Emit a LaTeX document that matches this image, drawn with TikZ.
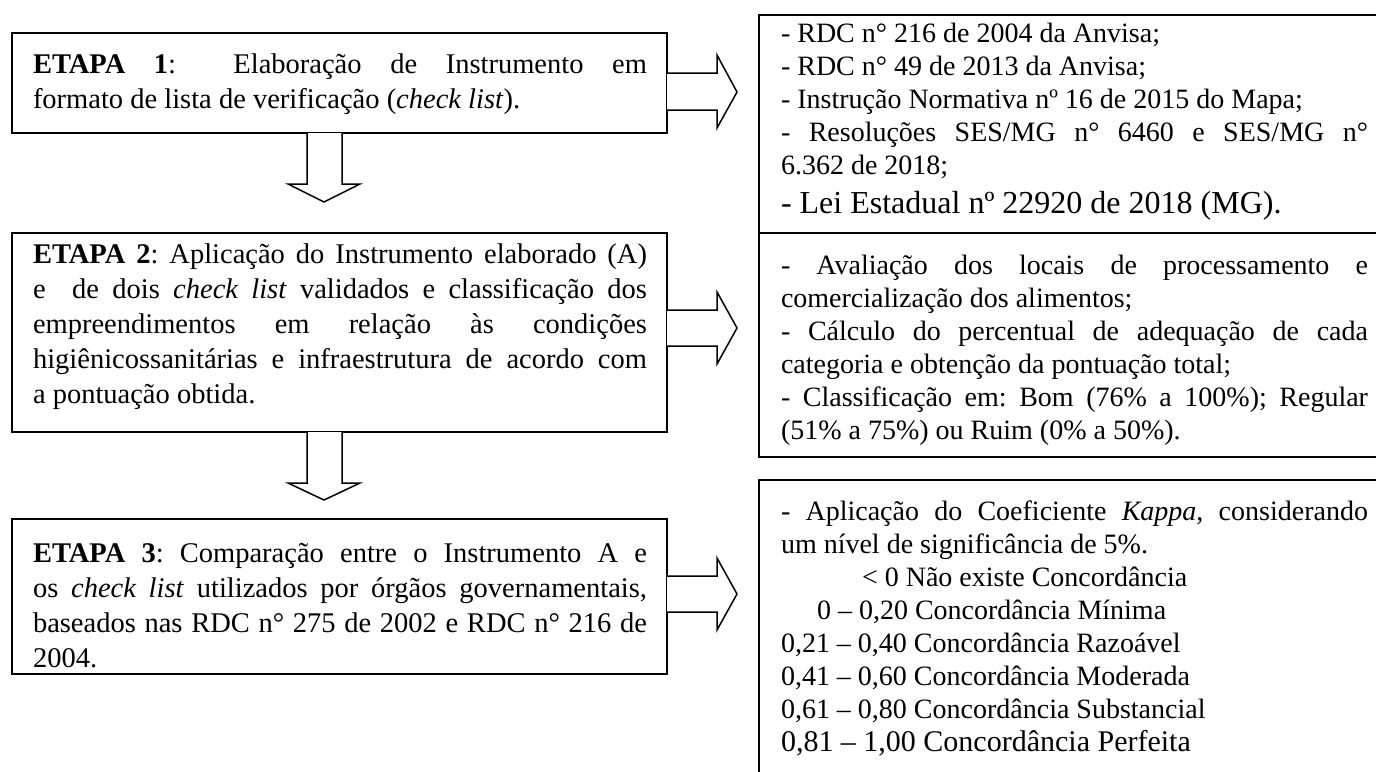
\documentclass[tikz,border=0pt]{standalone}
\usepackage{fontspec}
\setmainfont{Liberation Serif}
\frenchspacing
\newcommand{\jline}[1]{\makebox[\linewidth][s]{#1}\par}
\newcommand{\lfont}{\fontsize{28.5}{35}\selectfont\frenchspacing}
\newcommand{\rfont}{\fontsize{28}{33}\selectfont\frenchspacing}
\newcommand{\bfontLei}{\fontsize{32}{39}\selectfont}
\newcommand{\bfontKap}{\fontsize{30}{33}\selectfont}
\begin{document}
\begin{tikzpicture}[x=1pt,y=-1pt,
  box/.style={draw, line width=1.5pt, inner sep=0pt, outer sep=0pt, rectangle, anchor=north west},
  txt/.style={anchor=base west, inner sep=0pt, outer sep=0pt},
  blockarrow/.style={draw, line width=1.5pt, line join=miter, fill=white}]
\useasboundingbox (0,0) rectangle (1376,771);
\clip (0,0) rectangle (1376,771);

% left boxes
\node[box, minimum width=655pt, minimum height=100pt] (b1) at (12,33) {};
\node[box, minimum width=655pt, minimum height=199pt] (b2) at (12,233) {};
\node[box, minimum width=655pt, minimum height=155pt] (b3) at (12,519) {};

% right boxes
\node[box, minimum width=640pt, minimum height=218pt] (r1) at (759,15) {};
\node[box, minimum width=640pt, minimum height=224pt] (r2) at (759,233) {};
\node[box, minimum width=640pt, minimum height=330pt] (r3) at (759,480) {};

% left texts
\node[txt] (t1) at (33,73) {\parbox[t]{614pt}{\lfont
\jline{\textbf{ETAPA 1}:\ \ Elaboração de Instrumento em}
formato de lista de verificação (\textit{check list}).}};

\node[txt] (t2) at (33,263) {\parbox[t]{614pt}{\lfont
\jline{\textbf{ETAPA 2}: Aplicação do Instrumento elaborado (A)}
\jline{e\ \ de dois \textit{check list} validados e classificação dos}
\jline{empreendimentos em relação às condições}
\jline{higiênicossanitárias e infraestrutura de acordo com}
a pontuação obtida.}};

\node[txt] (t3) at (33,562) {\parbox[t]{614pt}{\lfont
\jline{\textbf{ETAPA 3}: Comparação entre o Instrumento A e}
\jline{os \textit{check list} utilizados por órgãos governamentais,}
\jline{baseados nas RDC n° 275 de 2002 e RDC n° 216 de}
2004.}};

% right texts
\node[txt] (s1) at (781,42) {\parbox[t]{587pt}{\rfont
- RDC n° 216 de 2004 da Anvisa;\par
- RDC n° 49 de 2013 da Anvisa;\par
- Instrução Normativa nº 16 de 2015 do Mapa;\par
\jline{- Resoluções SES/MG n° 6460 e SES/MG n°}
6.362 de 2018;\par
{\bfontLei - Lei Estadual nº 22920 de 2018 (MG).\par}}};

\node[txt] (s2) at (781,274) {\parbox[t]{587pt}{\rfont
\jline{- Avaliação dos locais de processamento e}
comercialização dos alimentos;\par
\jline{- Cálculo do percentual de adequação de cada}
categoria e obtenção da pontuação total;\par
\jline{- Classificação em: Bom (76\% a 100\%); Regular}
(51\% a 75\%) ou Ruim (0\% a 50\%).}};

\node[txt] (s3) at (781,520) {\parbox[t]{587pt}{\rfont
\jline{- Aplicação do Coeficiente \textit{Kappa}, considerando}
um nível de significância de 5\%.\par
\hspace*{81pt}< 0 Não existe Concordância\par
\hspace*{36pt}0 – 0,20 Concordância Mínima\par
0,21 – 0,40 Concordância Razoável\par
0,41 – 0,60 Concordância Moderada\par
0,61 – 0,80 Concordância Substancial\par
{\bfontKap 0,81 – 1,00 Concordância Perfeita\par}}};

% right block arrows
\draw[blockarrow] (b1.east |- 0,73) -- (717,73) -- (717,55) -- (737,92) -- (717,128) -- (717,110) -- (b1.east |- 0,110);
\draw[blockarrow] (b2.east |- 0,310) -- (717,310) -- (717,292) -- (737,328) -- (717,364) -- (717,346) -- (b2.east |- 0,346);
\draw[blockarrow] (b3.east |- 0,576) -- (717,576) -- (717,558) -- (737,594) -- (717,630) -- (717,612) -- (b3.east |- 0,612);

% down block arrows
\draw[blockarrow] (b1.south -| 307,0) -- (307,184) -- (288,184) -- (324,202) -- (360,184) -- (342,184) -- (b1.south -| 342,0);
\draw[blockarrow] (b2.south -| 307,0) -- (307,483) -- (288,483) -- (324,500) -- (360,483) -- (342,483) -- (b2.south -| 342,0);
\end{tikzpicture}
\end{document}
